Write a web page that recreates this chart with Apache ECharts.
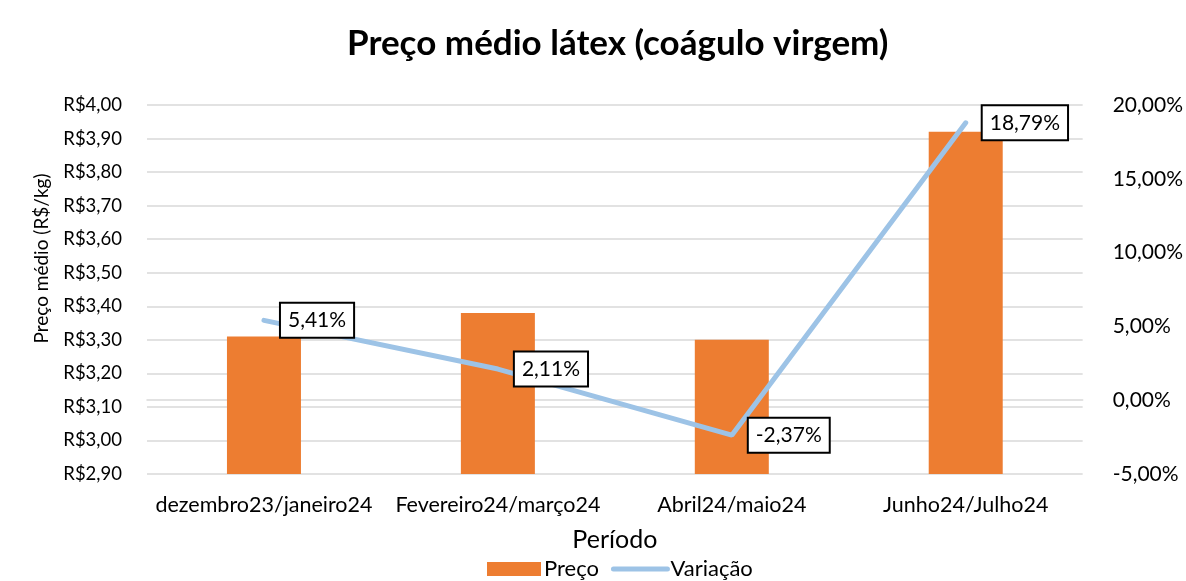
<!DOCTYPE html>
<html><head><meta charset="utf-8">
<script src="https://cdn.jsdelivr.net/npm/echarts@6/dist/echarts.min.js"></script>
<style>html,body{margin:0;padding:0;background:#fff}#c{width:1186px;height:581px}</style>
</head><body><div id="c"></div>
<script>
const categories = ['dezembro23/janeiro24','Fevereiro24/março24','Abril24/maio24','Junho24/Julho24'];
const precos = [3.31, 3.38, 3.30, 3.92];
const variacoes = [5.41, 2.11, -2.37, 18.79];

const F = 'Lato, "Noto Sans", sans-serif';
const fmtBR = (v, d) => v.toFixed(d).replace('.', ',');
const chart = echarts.init(document.getElementById('c'));
chart.setOption({
  animation: false,
  textStyle: {fontFamily: F},
  title: {text: 'Preço médio látex (coágulo virgem)', left: 342, top: 21,
    textStyle: {fontFamily: F, fontSize: 35, fontWeight: 'bold', color: '#000'}},
  grid: {left: 147, right: 103, top: 105, bottom: 107},
  legend: {left: 487, top: 558, padding: 0, itemGap: 12, itemWidth: 54, itemHeight: 14,
    textStyle: {fontFamily: F, fontSize: 22, color: '#000', padding: [0, 0, 0, -2]},
    data: [{name: 'Preço', icon: 'rect'},
           {name: 'Variação', itemStyle: {opacity: 0}, lineStyle: {width: 5, color: '#9DC3E6', cap: 'round'}}]},
  xAxis: {type: 'category', data: categories, name: 'Período', nameLocation: 'middle', nameGap: 53,
    nameTextStyle: {fontFamily: F, fontSize: 25, color: '#000'},
    axisLine: {lineStyle: {color: '#d9d9d9', width: 1.5}}, axisTick: {show: false},
    axisLabel: {fontFamily: F, fontSize: 21.5, color: '#000', margin: 20, interval: 0}},
  yAxis: [{type: 'value', min: 2.9, max: 4.0, interval: 0.1, name: 'Preço médio (R$/kg)',
    nameLocation: 'middle', nameGap: 96, nameTextStyle: {fontFamily: F, fontSize: 19, color: '#000', padding: [0, 0, 0, 62]},
    axisLine: {show: false}, axisTick: {show: false},
    splitLine: {lineStyle: {color: '#d9d9d9', width: 1.5}},
    axisLabel: {fontFamily: F, fontSize: 18.5, color: '#000', margin: 25,
      formatter: v => 'R$' + fmtBR(v, 2)}},
   {type: 'value', min: -5, max: 20, interval: 5, position: 'right',
    axisLine: {show: false}, axisTick: {show: false}, splitLine: {show: false},
    axisLabel: {fontFamily: F, fontSize: 21, color: '#000', margin: 30,
      formatter: v => fmtBR(v, 2) + '%'}}],
  series: [
    {name: 'Preço', type: 'bar', data: precos, barWidth: 74, itemStyle: {color: '#ED7D31'}},
    {name: 'Variação', type: 'line', yAxisIndex: 1, data: variacoes, symbol: 'none', z: 3,
      lineStyle: {color: '#9DC3E6', width: 5, cap: 'round'}, itemStyle: {color: '#9DC3E6'}},
    {name: 'labels', type: 'scatter', yAxisIndex: 1, data: variacoes, symbolSize: 0, silent: true, z: 10,
      itemStyle: {opacity: 1, color: '#9DC3E6'},
      label: {show: true, position: 'right', distance: 17, fontFamily: F, fontSize: 21, color: '#000',
        textBorderWidth: 0, opacity: 1,
        backgroundColor: '#fff', borderColor: '#000', borderWidth: 2, padding: [7, 7, 5, 7],
        formatter: p => fmtBR(p.value, 2) + '%'}}
  ]
});
</script></body></html>
